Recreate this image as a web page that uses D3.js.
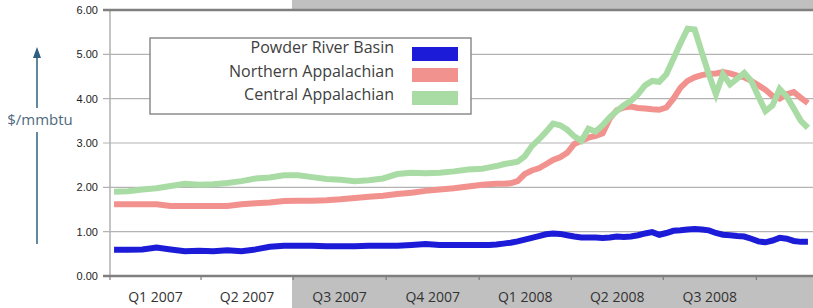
<!DOCTYPE html>
<html>
  <head>
    <title>Coal spot prices</title>
    <script src="https://cdnjs.cloudflare.com/ajax/libs/d3/7.8.5/d3.min.js"></script>
    <style>
      body { margin: 0; background: #ffffff; }
      svg { display: block; }
    </style>
  </head>
  <body>
<script>
// weekly-ish observation dates (biweekly in 2007, weekly in 2008)
var dates = [
  "2007-01-05","2007-01-19","2007-02-02","2007-02-16","2007-03-02","2007-03-16","2007-03-30",
  "2007-04-13","2007-04-27","2007-05-11","2007-05-25","2007-06-08","2007-06-22","2007-07-06",
  "2007-07-20","2007-08-03","2007-08-17","2007-08-31","2007-09-14","2007-09-28","2007-10-12",
  "2007-10-26","2007-11-09","2007-11-23","2007-12-07","2007-12-21",
  "2008-01-04","2008-01-11","2008-01-18","2008-01-25","2008-02-01","2008-02-08","2008-02-15",
  "2008-02-22","2008-02-29","2008-03-07","2008-03-14","2008-03-21","2008-03-28","2008-04-04",
  "2008-04-11","2008-04-18","2008-04-25","2008-05-02","2008-05-09","2008-05-16","2008-05-23",
  "2008-05-30","2008-06-06","2008-06-13","2008-06-20","2008-06-27","2008-07-04","2008-07-11",
  "2008-07-18","2008-07-25","2008-08-01","2008-08-08","2008-08-15","2008-08-22","2008-08-29",
  "2008-09-05","2008-09-12","2008-09-19","2008-09-26","2008-10-03","2008-10-10","2008-10-17",
  "2008-10-24","2008-10-31","2008-11-07","2008-11-14","2008-11-21"
];

var powderRiver = [
  0.59,0.59,0.60,0.64,0.60,0.56,0.57,0.56,0.58,0.56,0.60,0.66,0.68,0.68,0.68,0.67,0.67,0.67,
  0.68,0.68,0.68,0.70,0.72,0.70,0.70,0.70,
  0.70,0.70,0.71,0.73,0.75,0.78,0.82,0.86,0.90,0.94,0.96,0.95,0.92,0.89,0.87,0.87,0.87,0.86,
  0.87,0.89,0.88,0.89,0.92,0.96,0.99,0.93,0.97,1.02,1.03,1.05,1.06,1.05,1.03,0.97,0.93,0.92,
  0.90,0.89,0.84,0.78,0.76,0.80,0.86,0.84,0.79,0.77,0.77
];

var northernApp = [
  1.62,1.62,1.62,1.62,1.58,1.58,1.58,1.58,1.58,1.62,1.64,1.66,1.69,1.70,1.70,1.71,1.73,1.76,
  1.79,1.81,1.85,1.88,1.92,1.95,1.98,2.02,
  2.06,2.07,2.08,2.08,2.09,2.14,2.30,2.38,2.43,2.52,2.62,2.68,2.78,2.98,3.05,3.12,3.16,3.22,
  3.55,3.74,3.80,3.82,3.79,3.78,3.76,3.75,3.80,4.00,4.25,4.40,4.48,4.53,4.56,4.57,4.60,4.57,
  4.52,4.48,4.40,4.30,4.20,4.06,4.00,4.10,4.15,4.02,3.90
];

var centralApp = [
  1.90,1.91,1.95,1.98,2.03,2.08,2.06,2.07,2.10,2.14,2.20,2.22,2.27,2.27,2.23,2.19,2.17,2.14,
  2.16,2.20,2.30,2.33,2.32,2.33,2.36,2.40,
  2.42,2.45,2.48,2.52,2.55,2.58,2.70,2.93,3.08,3.25,3.44,3.40,3.30,3.15,3.05,3.32,3.26,3.40,
  3.58,3.72,3.85,3.95,4.10,4.30,4.40,4.38,4.55,4.90,5.25,5.58,5.56,5.05,4.55,4.10,4.55,4.32,
  4.45,4.58,4.40,4.05,3.72,3.85,4.22,4.05,3.78,3.50,3.34
];

var seriesNames = ["Powder River Basin", "Northern Appalachian", "Central Appalachian"];
var seriesColors = ["#1c1cd8", "#f2928e", "#a8dca4"];
var quarterStarts = ["2007-01-01","2007-04-01","2007-07-01","2007-10-01",
                     "2008-01-01","2008-04-01","2008-07-01","2008-10-01"];
var quarterLabels = ["Q1 2007","Q2 2007","Q3 2007","Q4 2007","Q1 2008","Q2 2008","Q3 2008"];
var yTicks = [0, 1, 2, 3, 4, 5, 6];

var w = 813, h = 308;
var parse = d3.utcParse("%Y-%m-%d");

var x = d3.scaleUtc()
  .domain([parse("2007-01-01"), parse("2008-11-26")])
  .range([110, 813]);
var y = d3.scaleLinear().domain([0, 6]).range([276, 10]);

var svg = d3.select("body").append("svg")
  .attr("width", w).attr("height", h);

// gray backdrop on the right side
svg.append("rect").attr("x", 292).attr("y", 0)
  .attr("width", w - 292).attr("height", h).attr("fill", "#c0c0c0");
// white plot area
svg.append("rect").attr("x", 103).attr("y", y(6))
  .attr("width", w - 103).attr("height", y(0) - y(6)).attr("fill", "#ffffff");

// gridlines + y labels
var grid = svg.append("g");
grid.selectAll("line").data(yTicks.filter(function(d){ return d > 0 && d < 6; }))
  .enter().append("line")
  .attr("x1", 103).attr("x2", w)
  .attr("y1", function(d){ return y(d); })
  .attr("y2", function(d){ return y(d); })
  .attr("stroke", "#b3b3b3").attr("stroke-width", 1.2);

svg.append("g").selectAll("text").data(yTicks).enter().append("text")
  .attr("x", 98)
  .attr("y", function(d){ return y(d); })
  .attr("dy", "0.35em")
  .attr("text-anchor", "end")
  .attr("font-family", "Liberation Sans, Arial, sans-serif")
  .attr("font-size", "11px")
  .attr("fill", "#222")
  .text(d3.format(".2f"));

// left axis line
svg.append("line").attr("x1", 110).attr("x2", 110)
  .attr("y1", y(6)).attr("y2", y(0))
  .attr("stroke", "#b0b0b0").attr("stroke-width", 1.5);

// x ticks
svg.append("g").selectAll("line").data(quarterStarts).enter().append("line")
  .attr("x1", function(d){ return x(parse(d)); })
  .attr("x2", function(d){ return x(parse(d)); })
  .attr("y1", y(0)).attr("y2", y(0) + 4)
  .attr("stroke", "#7a7a7a").attr("stroke-width", 1.2);

// quarter labels, centred within each quarter
svg.append("g").selectAll("text").data(quarterLabels).enter().append("text")
  .attr("x", function(d, i){ return (x(parse(quarterStarts[i])) + x(parse(quarterStarts[i + 1]))) / 2; })
  .attr("y", 302)
  .attr("text-anchor", "middle")
  .attr("font-family", "Open Sans, sans-serif")
  .attr("font-size", "14px")
  .attr("fill", "#333")
  .text(function(d){ return d; });

// top border and bottom axis
svg.append("line").attr("x1", 103).attr("x2", w).attr("y1", y(6)).attr("y2", y(6))
  .attr("stroke", "#7f7f7f").attr("stroke-width", 2.5);
svg.append("line").attr("x1", 103).attr("x2", w).attr("y1", y(0)).attr("y2", y(0))
  .attr("stroke", "#7f7f7f").attr("stroke-width", 2.5);

// legend box
var legend = svg.append("g");
legend.append("rect").attr("x", 150).attr("y", 38).attr("width", 321).attr("height", 76)
  .attr("fill", "#fff").attr("stroke", "#8c8c8c").attr("stroke-width", 1.5);
var rowText = [47, 71, 94], rowBox = [47, 68, 91];
legend.selectAll("text").data(seriesNames).enter().append("text")
  .attr("x", 394)
  .attr("y", function(d, i){ return rowText[i]; })
  .attr("dy", "0.35em")
  .attr("text-anchor", "end")
  .attr("font-family", "Open Sans, sans-serif")
  .attr("font-size", "16px")
  .attr("fill", "#404040")
  .text(function(d){ return d; });
legend.selectAll("rect.sw").data(seriesNames).enter().append("rect")
  .attr("class", "sw")
  .attr("x", 412).attr("width", 46)
  .attr("y", function(d, i){ return rowBox[i]; })
  .attr("height", 14)
  .attr("fill", function(d, i){ return seriesColors[i]; });

// data lines
var allSeries = [powderRiver, northernApp, centralApp];
var line = d3.line()
  .x(function(d, i){ return x(parse(dates[i])); })
  .y(function(d){ return y(d); });

svg.append("g").selectAll("path").data(allSeries).enter().append("path")
  .attr("d", line)
  .attr("fill", "none")
  .attr("stroke", function(d, i){ return seriesColors[i]; })
  .attr("stroke-width", 6)
  .attr("stroke-linejoin", "miter");

// y axis title with arrow
var ax = 37;
svg.append("line").attr("x1", ax).attr("x2", ax).attr("y1", 56).attr("y2", 108)
  .attr("stroke", "#2f5f7e").attr("stroke-width", 1.5);
svg.append("line").attr("x1", ax).attr("x2", ax).attr("y1", 132).attr("y2", 244)
  .attr("stroke", "#2f5f7e").attr("stroke-width", 1.5);
svg.append("path").attr("d", "M" + ax + ",47 L" + (ax - 4) + ",58 L" + (ax + 4) + ",58 Z")
  .attr("fill", "#2f5f7e");
svg.append("text").attr("x", 40).attr("y", 120).attr("dy", "0.35em")
  .attr("text-anchor", "middle")
  .attr("font-family", "Open Sans, sans-serif")
  .attr("font-size", "15px")
  .attr("fill", "#4f6a80")
  .text("$/mmbtu");
</script>
  </body>
</html>
